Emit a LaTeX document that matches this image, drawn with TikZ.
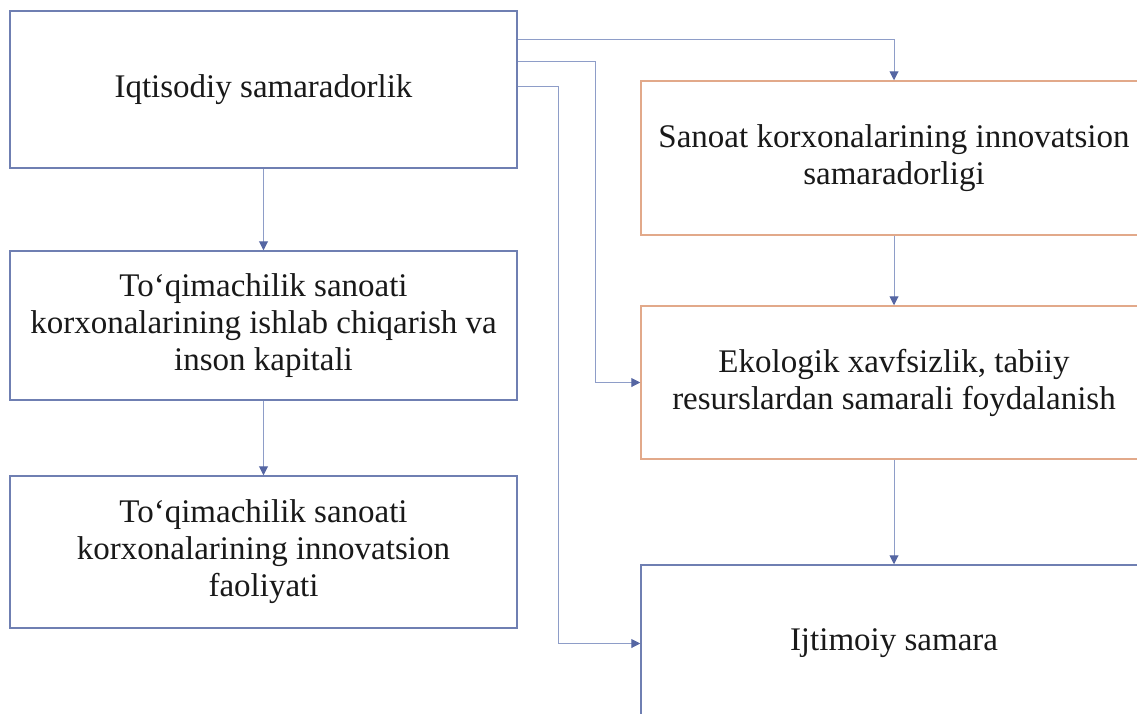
\documentclass[tikz,border=0pt]{standalone}
\usepackage{fontspec}
\setmainfont{Liberation Serif}
\usetikzlibrary{arrows.meta}
\definecolor{bluebd}{HTML}{6F7FB2}
\definecolor{orangebd}{HTML}{E2A98A}
\definecolor{connc}{HTML}{8E9DC8}
\definecolor{arrowc}{HTML}{5566A3}
\tikzset{
  box/.style={draw=bluebd, line width=1.5pt, fill=white, inner sep=0pt, align=center,
    font=\fontsize{33}{37}\selectfont, text=black!90},
  obox/.style={box, draw=orangebd},
  conn/.style={draw=connc, line width=1pt, -{Triangle[width=9pt,length=9pt,color=arrowc]}}
}
\begin{document}
\begin{tikzpicture}[x=1pt,y=-1pt]
\useasboundingbox (0,0) rectangle (1137,713);
\begin{scope}
\clip (0,0) rectangle (1137,713);
\node[box, minimum width=507pt, minimum height=157pt] (b1) at (263.5,89.5) {Iqtisodiy samaradorlik};
\node[box, minimum width=507pt, minimum height=149pt] (b2) at (263.5,325.5) {To‘qimachilik sanoati\\korxonalarining ishlab chiqarish va\\inson kapitali};
\node[box, minimum width=507pt, minimum height=152pt] (b3) at (263.5,552) {To‘qimachilik sanoati\\korxonalarining innovatsion\\faoliyati};
\node[obox, minimum width=506pt, minimum height=154pt] (bA) at (894,158) {Sanoat korxonalarining innovatsion\\samaradorligi};
\node[obox, minimum width=506pt, minimum height=153pt] (bB) at (894,382.5) {Ekologik xavfsizlik, tabiiy\\resurslardan samarali foydalanish};
\node[box, minimum width=506pt, minimum height=157pt] (bC) at (894,643.5) {Ijtimoiy samara};
\draw[conn] (b1) -- (b2);
\draw[conn] (b2) -- (b3);
\draw[conn] (bA) -- (bB);
\draw[conn] (bB) -- (bC);
\coordinate (s1) at ([yshift=-29pt]b1.north east);
\coordinate (s2) at ([yshift=-51pt]b1.north east);
\coordinate (s3) at ([yshift=-76pt]b1.north east);
\draw[conn] (s1) -| (bA.north);
\draw[conn] (s2) -- ++(78,0) |- (bB.west);
\draw[conn] (s3) -- ++(41,0) |- (bC.west);
\end{scope}
\end{tikzpicture}
\end{document}
